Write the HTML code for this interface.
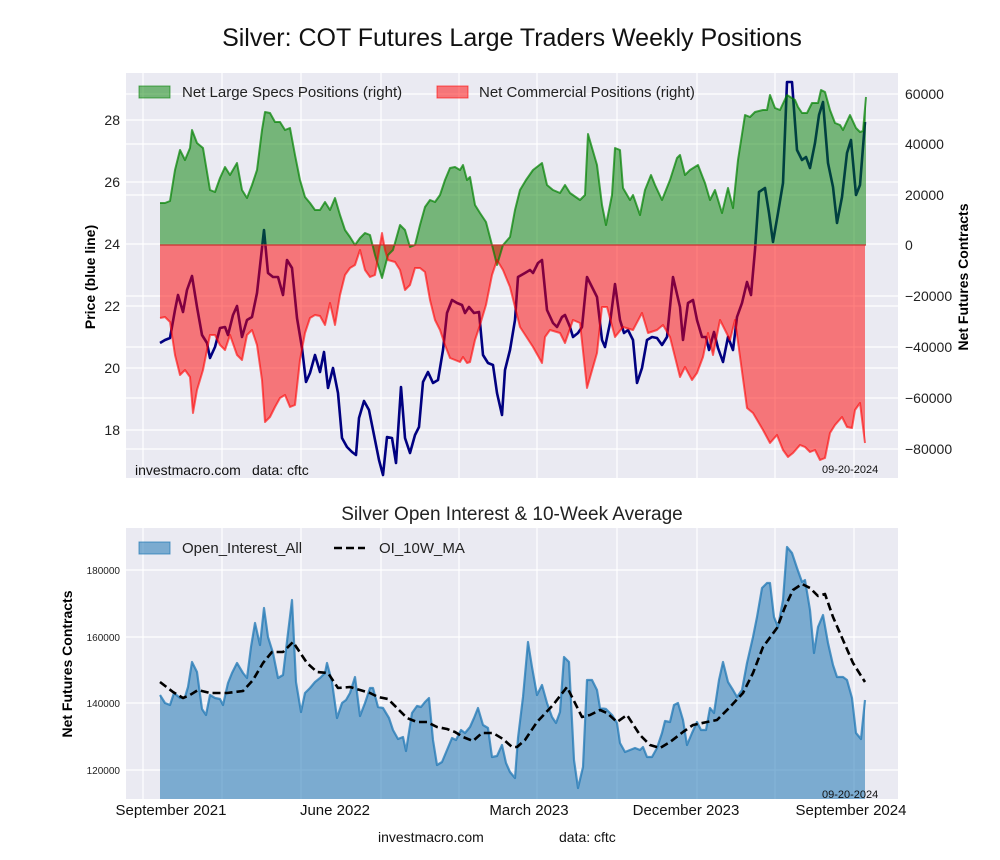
<!DOCTYPE html>
<html><head><meta charset="utf-8"><style>
html,body{margin:0;padding:0;background:#fff;}
svg{display:block;font-family:"Liberation Sans",Arial,sans-serif;}
</style></head><body>
<svg width="1000" height="860" viewBox="0 0 1000 860" xmlns="http://www.w3.org/2000/svg">
<defs>
<clipPath id="c1"><rect x="126" y="73" width="772" height="405"/></clipPath>
<clipPath id="c2"><rect x="126" y="528" width="772" height="271"/></clipPath>
</defs>
<rect width="1000" height="860" fill="#fff"/>
<text x="512" y="46" font-size="25" text-anchor="middle" fill="#111">Silver: COT Futures Large Traders Weekly Positions</text>

<!-- TOP PANEL -->
<rect x="126" y="73" width="772" height="405" fill="#eaeaf2"/>
<g stroke="#fff" stroke-width="1.2">
<line x1="126" x2="898" y1="120" y2="120"/><line x1="126" x2="898" y1="182" y2="182"/><line x1="126" x2="898" y1="244" y2="244"/><line x1="126" x2="898" y1="306" y2="306"/><line x1="126" x2="898" y1="368" y2="368"/><line x1="126" x2="898" y1="430" y2="430"/>
<line x1="126" x2="898" y1="94" y2="94"/><line x1="126" x2="898" y1="144" y2="144"/><line x1="126" x2="898" y1="195" y2="195"/><line x1="126" x2="898" y1="296" y2="296"/><line x1="126" x2="898" y1="347" y2="347"/><line x1="126" x2="898" y1="398" y2="398"/><line x1="126" x2="898" y1="449" y2="449"/>
<line y1="73" y2="478" x1="143" x2="143"/><line y1="73" y2="478" x1="222" x2="222"/><line y1="73" y2="478" x1="301" x2="301"/><line y1="73" y2="478" x1="381" x2="381"/><line y1="73" y2="478" x1="459" x2="459"/><line y1="73" y2="478" x1="537" x2="537"/><line y1="73" y2="478" x1="617" x2="617"/><line y1="73" y2="478" x1="697" x2="697"/><line y1="73" y2="478" x1="775" x2="775"/><line y1="73" y2="478" x1="854" x2="854"/>
</g>
<g clip-path="url(#c1)">
<polyline fill="none" stroke="#000080" stroke-width="2.6" stroke-linejoin="round" points="160,343 165,340 170,338 175,310 178,295 183,312 187,290 192,276 197,307 202,335 207,343 210,358 215,347 220,328 225,327 228,335 233,315 237,306 242,337 247,320 252,317 257,293 264,230 268,273 273,277 278,277 283,295 287,260 292,268 297,318 302,348 306,382 310,373 315,355 320,372 324,352 328,388 333,368 338,393 342,438 347,447 352,452 356,455 359,418 364,401 369,410 375,440 379,460 383,475 387,437 392,438 396,463 401,387 405,438 410,453 415,435 419,427 423,382 428,372 433,383 438,380 443,350 447,313 452,300 457,303 462,305 465,313 469,307 474,313 479,312 483,355 488,363 493,365 497,393 502,415 505,370 510,350 515,320 518,277 525,273 530,270 533,273 538,263 542,260 547,310 553,323 557,327 562,317 565,315 570,327 573,337 578,333 582,327 587,277 592,287 597,297 602,340 605,347 610,323 615,284 620,320 624,333 628,330 633,340 637,383 642,368 647,340 652,337 657,338 662,345 667,337 673,277 680,307 683,340 688,303 693,300 697,320 702,337 706,337 709,350 714,332 718,348 723,362 728,337 733,350 737,317 742,303 747,282 751,295 755,250 759,192 765,188 769,213 773,242 778,213 783,183 787,82 792,82 797,150 802,160 806,157 810,168 815,143 819,115 823,102 828,163 833,187 837,223 842,197 847,153 851,140 856,195 860,185 865,122"/>
<polygon fill="#008000" fill-opacity="0.5" points="160,245 160,203 165,203 170,201 175,170 180,150 185,160 190,148 192,130 197,143 203,148 210,190 215,192 220,178 225,167 230,175 237,163 242,190 247,198 252,185 257,170 262,130 265,112 270,113 275,122 280,122 285,130 290,128 295,155 300,180 305,197 310,203 315,210 320,210 325,202 330,210 335,198 340,215 345,230 350,237 355,245 360,238 365,233 370,235 375,255 382,278 388,255 393,250 400,225 405,230 410,247 415,245 420,225 425,207 430,200 435,202 440,195 445,180 450,168 455,167 460,170 463,165 467,180 470,177 475,205 480,213 486,222 492,245 497,265 503,245 510,237 515,210 520,190 526,180 533,170 542,163 547,185 553,190 560,193 565,185 570,193 580,200 585,195 588,134 597,165 602,205 606,225 612,195 615,148 620,150 623,188 630,200 633,195 640,215 645,190 651,175 655,185 662,200 670,180 677,158 680,155 685,175 690,170 698,165 703,178 705,183 710,200 715,190 722,213 728,188 733,208 738,160 745,115 750,117 755,112 763,110 767,110 770,95 775,108 780,110 787,95 795,100 798,107 802,113 807,113 812,103 818,103 821,90 825,92 830,110 835,123 840,125 843,130 850,115 856,128 860,132 863,131 866,97 866,245"/>
<polygon fill="#ff0000" fill-opacity="0.5" points="160,245 160,318 165,317 170,322 175,355 180,375 185,370 190,377 193,413 197,390 203,370 210,335 215,335 220,345 225,350 230,335 237,355 242,360 247,335 252,330 257,345 262,380 265,422 270,417 275,407 280,398 285,395 290,407 295,405 300,360 305,333 310,318 315,315 320,316 325,325 330,303 335,325 340,295 345,275 350,268 355,265 360,250 365,270 370,277 375,275 382,233 385,250 388,260 395,262 400,270 405,290 410,285 415,268 420,268 425,272 430,300 435,320 440,330 445,345 450,358 455,360 460,362 463,357 467,363 470,362 475,340 480,325 486,305 492,275 497,260 503,270 510,287 520,327 533,347 542,363 545,337 550,330 560,333 565,343 573,320 580,323 587,388 597,353 602,307 607,307 615,337 623,327 633,330 642,313 648,333 657,330 663,325 670,337 680,377 685,367 692,380 697,373 703,357 708,333 713,355 720,320 730,340 735,320 747,408 753,413 763,430 770,443 777,435 783,450 788,457 793,453 800,445 805,447 810,452 815,450 820,460 825,458 830,433 835,425 842,417 847,427 852,428 855,410 860,403 865,443 865,245"/>
<polyline fill="none" stroke="#008000" stroke-opacity="0.7" stroke-width="2" stroke-linejoin="round" points="160,203 165,203 170,201 175,170 180,150 185,160 190,148 192,130 197,143 203,148 210,190 215,192 220,178 225,167 230,175 237,163 242,190 247,198 252,185 257,170 262,130 265,112 270,113 275,122 280,122 285,130 290,128 295,155 300,180 305,197 310,203 315,210 320,210 325,202 330,210 335,198 340,215 345,230 350,237 355,245 360,238 365,233 370,235 375,255 382,278 388,255 393,250 400,225 405,230 410,247 415,245 420,225 425,207 430,200 435,202 440,195 445,180 450,168 455,167 460,170 463,165 467,180 470,177 475,205 480,213 486,222 492,245 497,265 503,245 510,237 515,210 520,190 526,180 533,170 542,163 547,185 553,190 560,193 565,185 570,193 580,200 585,195 588,134 597,165 602,205 606,225 612,195 615,148 620,150 623,188 630,200 633,195 640,215 645,190 651,175 655,185 662,200 670,180 677,158 680,155 685,175 690,170 698,165 703,178 705,183 710,200 715,190 722,213 728,188 733,208 738,160 745,115 750,117 755,112 763,110 767,110 770,95 775,108 780,110 787,95 795,100 798,107 802,113 807,113 812,103 818,103 821,90 825,92 830,110 835,123 840,125 843,130 850,115 856,128 860,132 863,131 866,97"/>
<polyline fill="none" stroke="#ff0000" stroke-opacity="0.6" stroke-width="2" stroke-linejoin="round" points="160,318 165,317 170,322 175,355 180,375 185,370 190,377 193,413 197,390 203,370 210,335 215,335 220,345 225,350 230,335 237,355 242,360 247,335 252,330 257,345 262,380 265,422 270,417 275,407 280,398 285,395 290,407 295,405 300,360 305,333 310,318 315,315 320,316 325,325 330,303 335,325 340,295 345,275 350,268 355,265 360,250 365,270 370,277 375,275 382,233 385,250 388,260 395,262 400,270 405,290 410,285 415,268 420,268 425,272 430,300 435,320 440,330 445,345 450,358 455,360 460,362 463,357 467,363 470,362 475,340 480,325 486,305 492,275 497,260 503,270 510,287 520,327 533,347 542,363 545,337 550,330 560,333 565,343 573,320 580,323 587,388 597,353 602,307 607,307 615,337 623,327 633,330 642,313 648,333 657,330 663,325 670,337 680,377 685,367 692,380 697,373 703,357 708,333 713,355 720,320 730,340 735,320 747,408 753,413 763,430 770,443 777,435 783,450 788,457 793,453 800,445 805,447 810,452 815,450 820,460 825,458 830,433 835,425 842,417 847,427 852,428 855,410 860,403 865,443"/>
<line x1="160" x2="866" y1="245" y2="245" stroke="#cc3030" stroke-width="1.2"/>
</g>
<!-- legend top -->
<rect x="139" y="86" width="31" height="12" fill="#008000" fill-opacity="0.5" stroke="#008000" stroke-opacity="0.6"/>
<text x="182" y="97" font-size="15" fill="#222">Net Large Specs Positions (right)</text>
<rect x="437" y="86" width="31" height="12" fill="#ff0000" fill-opacity="0.5" stroke="#ff0000" stroke-opacity="0.6"/>
<text x="479" y="97" font-size="15" fill="#222">Net Commercial Positions (right)</text>
<!-- left ticks -->
<g font-size="14" fill="#222" text-anchor="end">
<text x="120" y="125">28</text><text x="120" y="187">26</text><text x="120" y="249">24</text><text x="120" y="311">22</text><text x="120" y="373">20</text><text x="120" y="435">18</text>
</g>
<g font-size="14" fill="#222">
<text x="905" y="99">60000</text><text x="905" y="149">40000</text><text x="905" y="200">20000</text><text x="905" y="250">0</text><text x="905" y="301">−20000</text><text x="905" y="352">−40000</text><text x="905" y="403">−60000</text><text x="905" y="454">−80000</text>
</g>
<text transform="translate(95,277) rotate(-90)" font-size="14" font-weight="bold" text-anchor="middle" fill="#000">Price (blue line)</text>
<text transform="translate(968,277) rotate(-90)" font-size="14" font-weight="bold" text-anchor="middle" fill="#000">Net Futures Contracts</text>
<text x="135" y="475" font-size="14" fill="#111">investmacro.com</text>
<text x="252" y="475" font-size="14" fill="#111">data: cftc</text>
<text x="822" y="473" font-size="11" fill="#111">09-20-2024</text>

<!-- BOTTOM PANEL -->
<text x="512" y="520" font-size="19" text-anchor="middle" fill="#222">Silver Open Interest &amp; 10-Week Average</text>
<rect x="126" y="528" width="772" height="271" fill="#eaeaf2"/>
<g stroke="#fff" stroke-width="1.2">
<line x1="126" x2="898" y1="570" y2="570"/><line x1="126" x2="898" y1="637" y2="637"/><line x1="126" x2="898" y1="703" y2="703"/><line x1="126" x2="898" y1="770" y2="770"/>
<line y1="528" y2="799" x1="143" x2="143"/><line y1="528" y2="799" x1="222" x2="222"/><line y1="528" y2="799" x1="301" x2="301"/><line y1="528" y2="799" x1="381" x2="381"/><line y1="528" y2="799" x1="459" x2="459"/><line y1="528" y2="799" x1="537" x2="537"/><line y1="528" y2="799" x1="617" x2="617"/><line y1="528" y2="799" x1="697" x2="697"/><line y1="528" y2="799" x1="775" x2="775"/><line y1="528" y2="799" x1="854" x2="854"/>
</g>
<g clip-path="url(#c2)">
<polygon fill="#1f77b4" fill-opacity="0.55" points="160,800 160,695 165,703 170,705 174,693 180,698 185,697 188,687 192,662 197,672 202,709 206,715 210,695 215,698 220,699 223,705 228,683 232,673 237,663 243,673 247,678 251,647 255,623 260,645 264,608 268,637 273,653 278,678 283,675 288,633 292,600 296,682 301,712 305,693 310,688 315,682 320,678 325,673 327,663 332,682 337,718 342,703 346,700 350,693 355,677 360,716 365,703 370,688 373,688 378,707 383,708 389,718 393,730 398,739 403,737 406,751 412,713 417,706 421,707 425,702 429,698 433,740 437,765 442,762 447,750 452,738 456,740 461,730 465,733 470,727 474,718 478,708 483,725 488,728 492,757 497,756 502,745 506,763 510,772 515,778 518,738 523,697 528,642 532,667 537,695 542,685 547,703 552,717 556,723 560,712 564,657 569,662 574,760 578,788 583,767 587,680 592,680 597,690 600,708 606,709 612,715 617,723 620,743 625,752 630,750 635,748 640,750 643,747 647,757 652,757 657,748 662,733 665,721 670,722 674,705 678,703 683,720 687,745 692,733 697,722 701,730 706,730 710,708 714,713 719,680 723,662 728,682 733,690 737,697 742,690 747,663 753,637 757,617 762,588 767,583 770,583 774,617 778,627 783,600 787,547 792,553 797,568 802,582 805,580 810,610 814,653 818,627 823,615 828,643 833,665 837,677 843,677 847,680 852,698 856,733 861,739 865,700 865,800"/>
<polyline fill="none" stroke="#1f77b4" stroke-opacity="0.75" stroke-width="2.2" stroke-linejoin="round" points="160,695 165,703 170,705 174,693 180,698 185,697 188,687 192,662 197,672 202,709 206,715 210,695 215,698 220,699 223,705 228,683 232,673 237,663 243,673 247,678 251,647 255,623 260,645 264,608 268,637 273,653 278,678 283,675 288,633 292,600 296,682 301,712 305,693 310,688 315,682 320,678 325,673 327,663 332,682 337,718 342,703 346,700 350,693 355,677 360,716 365,703 370,688 373,688 378,707 383,708 389,718 393,730 398,739 403,737 406,751 412,713 417,706 421,707 425,702 429,698 433,740 437,765 442,762 447,750 452,738 456,740 461,730 465,733 470,727 474,718 478,708 483,725 488,728 492,757 497,756 502,745 506,763 510,772 515,778 518,738 523,697 528,642 532,667 537,695 542,685 547,703 552,717 556,723 560,712 564,657 569,662 574,760 578,788 583,767 587,680 592,680 597,690 600,708 606,709 612,715 617,723 620,743 625,752 630,750 635,748 640,750 643,747 647,757 652,757 657,748 662,733 665,721 670,722 674,705 678,703 683,720 687,745 692,733 697,722 701,730 706,730 710,708 714,713 719,680 723,662 728,682 733,690 737,697 742,690 747,663 753,637 757,617 762,588 767,583 770,583 774,617 778,627 783,600 787,547 792,553 797,568 802,582 805,580 810,610 814,653 818,627 823,615 828,643 833,665 837,677 843,677 847,680 852,698 856,733 861,739 865,700"/>
<polyline fill="none" stroke="#000" stroke-width="2.6" stroke-dasharray="8,4" stroke-linejoin="round" points="160,682 173,692 183,698 190,695 198,690 210,693 227,693 243,691 253,680 263,663 272,652 283,652 293,642 307,663 317,672 328,673 338,688 350,687 360,690 370,693 378,697 388,699 397,708 407,718 417,722 427,722 437,727 447,729 455,732 463,737 473,741 482,733 493,733 503,739 512,747 517,747 525,740 537,722 553,705 567,687 582,717 590,715 600,710 607,713 617,722 627,715 640,735 650,745 660,748 670,742 683,732 693,725 707,722 717,720 730,707 743,693 753,673 763,647 777,628 785,607 793,590 802,584 810,588 818,596 825,594 833,617 843,640 853,663 865,682"/>
</g>
<rect x="139" y="542" width="31" height="12" fill="#1f77b4" fill-opacity="0.55" stroke="#1f77b4" stroke-opacity="0.7"/>
<text x="182" y="553" font-size="15" fill="#222">Open_Interest_All</text>
<line x1="334" x2="365" y1="548" y2="548" stroke="#000" stroke-width="2.6" stroke-dasharray="8,4"/>
<text x="379" y="553" font-size="15" fill="#222">OI_10W_MA</text>
<g font-size="10" fill="#222" text-anchor="end">
<text x="120" y="574">180000</text><text x="120" y="641">160000</text><text x="120" y="707">140000</text><text x="120" y="774">120000</text>
</g>
<text transform="translate(72,664) rotate(-90)" font-size="14" font-weight="bold" text-anchor="middle" fill="#000">Net Futures Contracts</text>
<text x="822" y="798" font-size="11" fill="#111">09-20-2024</text>
<g font-size="15" fill="#111" text-anchor="middle">
<text x="171" y="815">September 2021</text><text x="335" y="815">June 2022</text><text x="529" y="815">March 2023</text><text x="686" y="815">December 2023</text><text x="851" y="815">September 2024</text>
</g>
<text x="378" y="842" font-size="14" fill="#111">investmacro.com</text>
<text x="559" y="842" font-size="14" fill="#111">data: cftc</text>
</svg>
</body></html>
